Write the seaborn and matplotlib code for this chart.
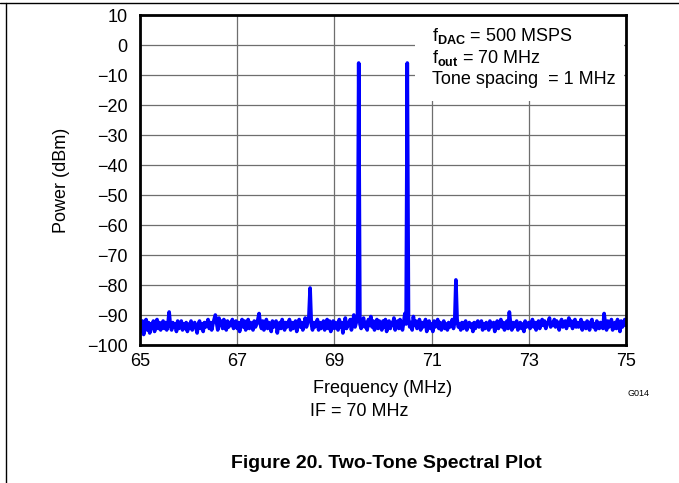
import numpy as np
import pandas as pd
import matplotlib
matplotlib.use("Agg")
import matplotlib.pyplot as plt
from matplotlib.patches import Rectangle
from matplotlib.lines import Line2D
import seaborn as sns

# ---------------- data ----------------
freq_start, freq_step = 65.0, 0.025
noise_db = [
    -93, -95.5, -92, -96.5, -93.5, -91.5, -95, -92.5, -96, -93, -94.5, -92, -95.5, -93, -91.5, -94.5, -92.5, -95, -93.5, -92,
    -94.5, -92.5, -95, -93, -93, -93.5, -95, -92.5, -94, -93, -95.5, -92, -94.5, -93.5, -92, -95, -93, -94.5, -92.5, -95.5,
    -93, -94.5, -92, -95, -93.5, -92.5, -94, -96, -93, -92, -94.5, -93, -95.5, -92.5, -94, -93, -91.5, -94.5, -92.5, -95,
    -93, -91.5, -94, -92.5, -95, -91, -93.5, -92, -94.5, -91.5, -93, -95, -92, -94, -92.5, -93.5, -91.5, -94.5, -93, -92,
    -94.5, -92.5, -95.5, -93, -91.5, -94, -92, -95, -93.5, -91.5, -94.5, -92.5, -93.5, -95, -92, -94, -93, -91.5, -93, -93,
    -94.5, -92, -95, -93, -91.5, -94.5, -92.5, -93.5, -95.5, -92, -94, -93, -92, -96, -93.5, -92.5, -94.5, -91.5, -93, -95,
    -92.5, -94, -93, -91.5, -95, -92.5, -94.5, -93, -92, -95.5, -93, -91.5, -94, -92.5, -95, -93.5, -91, -94, -92.5, -90.5,
    -93, -93, -95, -92.5, -94, -93, -91.5, -95, -92.5, -94.5, -93.5, -92, -95, -93, -91.5, -94.5, -92, -95.5, -93, -92,
    -94.5, -92.5, -93.5, -95, -91.5, -94, -92.5, -96, -93, -91, -94.5, -92.5, -93.5, -91.5, -95, -93, -90, -94, -92.5, -91.5,
    -93, -93, -94.5, -92, -91, -94, -92.5, -95, -91.5, -93.5, -90.5, -94, -92, -95, -93, -91.5, -94.5, -92, -93.5, -95,
    -92, -94, -91.5, -95.5, -93, -92, -94.5, -92.5, -93.5, -91, -95, -93, -92, -94.5, -91.5, -93, -95, -92.5, -89.5, -93,
    -93, -91, -94, -92.5, -95, -90.5, -93.5, -92, -94.5, -93, -91.5, -95, -92.5, -94, -93, -91.5, -95.5, -93, -92, -94.5,
    -93, -95.5, -92, -94, -93, -91.5, -94.5, -92.5, -95, -93.5, -92, -94.5, -93, -95, -92.5, -94, -93.5, -91.5, -94.5, -92.5,
    -93, -91.5, -94, -93, -95, -92.5, -94.5, -93, -92, -95, -93.5, -92.5, -94, -93, -95.5, -92.5, -94.5, -93, -92, -94,
    -93.5, -92, -95, -93, -94.5, -92.5, -93.5, -95, -92, -94, -93, -92.5, -95.5, -93.5, -92, -94.5, -93, -91.5, -94, -92.5,
    -95, -93, -92, -94.5, -93, -93, -95, -92.5, -94, -93, -92, -95, -93.5, -92.5, -94.5, -93, -95.5, -92, -94, -93,
    -92.5, -94.5, -93, -91.5, -94, -92.5, -95, -93, -92, -94.5, -93, -91.5, -93.5, -92, -94.5, -93, -92.5, -91, -94, -92.5,
    -93.5, -91.5, -94, -92, -93, -95, -92.5, -91.5, -94, -93, -92, -94.5, -92.5, -91, -93.5, -92, -94.5, -93, -91.5, -94,
    -92.5, -94, -93, -91.5, -95, -92.5, -93.5, -94.5, -92, -93, -95, -92.5, -91.5, -94, -93, -95, -92, -93.5, -94.5, -92.5,
    -93, -94.5, -93, -93, -95, -92, -94, -93, -91.5, -95, -93, -92.5, -94.5, -91.5, -93, -95.5, -92, -94, -93, -91.5,
    -93.5,
]
spur_freq = [65.60, 66.55, 67.45, 68.50, 69.50, 70.50, 71.50, 72.60, 74.55]
spur_db = [-89.0, -90.0, -89.5, -81.0, -6.0, -6.0, -78.3, -89.0, -89.5]

x_ticks = [65, 67, 69, 71, 73, 75]
y_ticks = [10, 0, -10, -20, -30, -40, -50, -60, -70, -80, -90, -100]

# ------------- build table -------------
freq = np.round(np.arange(len(noise_db)) * freq_step + freq_start, 4)
power = np.array(noise_db, dtype=float)
for f, p in zip(spur_freq, spur_db):
    i = int(np.argmin(np.abs(freq - f)))
    power[i] = p
df = pd.DataFrame({"Frequency": freq, "Power": power})

# ---------------- style ----------------
sns.set_theme(style="white")
plt.rcParams["font.family"] = ["Liberation Sans", "DejaVu Sans"]
plt.rcParams["mathtext.fontset"] = "custom"
plt.rcParams["mathtext.rm"] = "Liberation Sans"
plt.rcParams["mathtext.bf"] = "Liberation Sans:bold"
plt.rcParams["text.color"] = "black"
plt.rcParams["axes.labelcolor"] = "black"
plt.rcParams["xtick.color"] = "black"
plt.rcParams["ytick.color"] = "black"

fig = plt.figure(figsize=(6.79, 4.83), dpi=100)
ax = fig.add_axes([140 / 679, 1 - 345 / 483, 486 / 679, 330 / 483])

sns.lineplot(data=df, x="Frequency", y="Power", ax=ax, color="#0000FF",
             linewidth=2.6, estimator=None, sort=True, zorder=3)

ax.set_xlim(65, 75)
ax.set_ylim(-100, 10)
ax.set_xticks(x_ticks)
ax.set_yticks(y_ticks)
ax.set_xticklabels([str(t) for t in x_ticks], fontsize=13)
ax.set_yticklabels([str(t).replace("-", "\u2212") for t in y_ticks], fontsize=13)
ax.tick_params(axis="both", length=0)
ax.tick_params(axis="y", pad=9)
ax.tick_params(axis="x", pad=6)
ax.grid(True, color="#6e6e6e", linewidth=0.9)
ax.set_axisbelow(True)
for s in ax.spines.values():
    s.set_visible(True)
    s.set_color("black")
    s.set_linewidth(2.0)
    s.set_zorder(5)

ax.set_xlabel("Frequency (MHz)", fontsize=13, labelpad=7)
ax.set_ylabel("Power (dBm)", fontsize=13, labelpad=12)

# white box behind annotation
ax.add_patch(Rectangle(((415 - 140) / 486, (345 - 101) / 330), 0.43, 0.27,
                       transform=ax.transAxes, facecolor="white",
                       edgecolor="none", zorder=2))
tx = (432 - 140) / 486
ax.text(tx, 1 - (36 - 15) / 330, r"f$_{\mathbf{DAC}}$ = 500 MSPS",
        transform=ax.transAxes, fontsize=13, va="center", ha="left", zorder=4)
ax.text(tx, 1 - (58 - 15) / 330, r"f$_{\mathbf{out}}$ = 70 MHz",
        transform=ax.transAxes, fontsize=13, va="center", ha="left", zorder=4)
ax.text(tx, 1 - (80 - 15) / 330, "Tone spacing  = 1 MHz",
        transform=ax.transAxes, fontsize=13, va="center", ha="left", zorder=4)

fig.text(638 / 679, 1 - 393 / 483, "G014", fontsize=6.5, ha="center", va="center")
fig.text(359 / 679, 1 - 411 / 483, "IF = 70 MHz", fontsize=13, ha="center", va="center")
fig.text(386 / 679, 1 - 464 / 483, "Figure 20. Two-Tone Spectral Plot", fontsize=14,
         fontweight="bold", ha="center", va="center")

# page frame lines
fig.add_artist(Line2D([0, 1], [1 - 2.5 / 483, 1 - 2.5 / 483], transform=fig.transFigure,
                      color="black", linewidth=1.0))
fig.add_artist(Line2D([6 / 679, 6 / 679], [0, 1 - 2.5 / 483], transform=fig.transFigure,
                      color="black", linewidth=1.0))

fig.savefig("out.png", dpi=100, facecolor="white")
